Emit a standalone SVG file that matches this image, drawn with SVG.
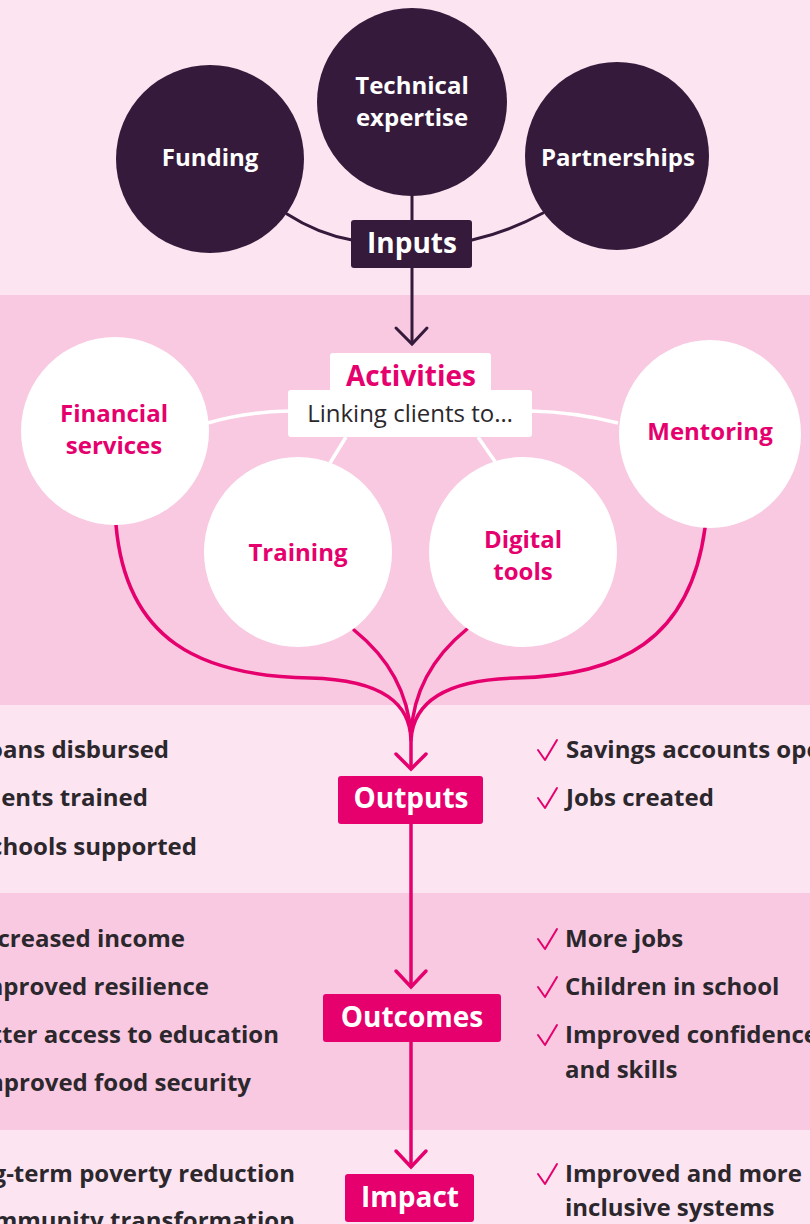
<svg xmlns="http://www.w3.org/2000/svg" width="810" height="1224" viewBox="0 0 810 1224">
<defs>
<style>
.light{fill:#fce4f0}
.dark{fill:#f8c9e1}
.blobD{fill:#351a3b}
.blobW{fill:#ffffff}
.tW{font-family:"Open Sans","Liberation Sans",sans-serif;font-weight:700;fill:#ffffff;text-anchor:middle}
.tP{font-family:"Open Sans","Liberation Sans",sans-serif;font-weight:700;fill:#e5006e;text-anchor:middle}
.body{font-family:"Open Sans","Liberation Sans",sans-serif;font-weight:700;fill:#2b272c;font-size:24px}
.bodyL{text-anchor:end}
.pink{fill:none;stroke:#e5006e;stroke-width:3.5;stroke-linecap:round}
.plum{fill:none;stroke:#351a3b;stroke-width:3;stroke-linecap:round}
.white{fill:none;stroke:#ffffff;stroke-width:3.5}
.chk{fill:none;stroke:#e5006e;stroke-width:2;stroke-linecap:round;stroke-linejoin:round}
</style>
<path id="check" d="M0,0 L7,10 L19,-10"/>
</defs>

<!-- bands -->
<rect class="light" x="0" y="0" width="810" height="295"/>
<rect class="dark" x="0" y="295" width="810" height="410"/>
<rect class="light" x="0" y="705" width="810" height="188"/>
<rect class="dark" x="0" y="893" width="810" height="237"/>
<rect class="light" x="0" y="1130" width="810" height="94"/>

<!-- connectors -->
<g id="connectors">
  <path class="plum" d="M287,214 Q318,234 352,240"/>
  <path class="plum" d="M472,240 Q508,232 543,213"/>
  <path class="plum" d="M412,195 L412,222"/>
  <path class="plum" d="M412,268 L412,343"/>
  <path class="plum" d="M396,328 L412,344 L427,328"/>
  <path class="white" d="M208,423 Q245,412 289,411"/>
  <path class="white" d="M531,411 Q575,412 618,423"/>
  <path class="white" d="M346,437 L330,463"/>
  <path class="white" d="M478,437 L496,463"/>
  <path class="pink" d="M116,525 C126,640 200,676 310,678 C385,680 410,705 411,740 L411,768"/>
  <path class="pink" d="M354,630 C385,655 408,690 411,735"/>
  <path class="pink" d="M467,629 C435,655 413,690 411,735"/>
  <path class="pink" d="M705,528 C690,640 620,676 515,678 C440,680 413,705 411,740"/>
  <path class="pink" d="M396,754 L411,769 L426,754"/>
  <path class="pink" d="M411,824 L411,986"/>
  <path class="pink" d="M396,971 L411,987 L426,971"/>
  <path class="pink" d="M411,1042 L411,1166"/>
  <path class="pink" d="M396,1151 L411,1167 L426,1151"/>
</g>

<!-- Inputs -->
<g id="funding">
  <ellipse class="blobD" cx="210" cy="159" rx="94" ry="94"/>
  <text class="tW" x="210" y="166" font-size="24">Funding</text>
</g>
<g id="technical-expertise">
  <ellipse class="blobD" cx="412" cy="102" rx="95" ry="94"/>
  <text class="tW" x="412" y="94" font-size="24">Technical</text>
  <text class="tW" x="412" y="126" font-size="24">expertise</text>
</g>
<g id="partnerships">
  <ellipse class="blobD" cx="617" cy="156" rx="92" ry="94"/>
  <text class="tW" x="618" y="166" font-size="24">Partnerships</text>
</g>
<g id="inputs">
  <rect class="blobD" x="351" y="220" width="121" height="48" rx="3"/>
  <text class="tW" x="412" y="253" font-size="28">Inputs</text>
</g>

<!-- Activities -->
<g id="activities">
  <rect class="blobW" x="330" y="353" width="161" height="40" rx="3"/>
  <rect class="blobW" x="288" y="390" width="244" height="47" rx="3"/>
  <text class="tP" x="411" y="386" font-size="28">Activities</text>
  <text x="410" y="422" font-family="Open Sans, Liberation Sans, sans-serif" font-size="24" fill="#2b272c" text-anchor="middle">Linking clients to…</text>
</g>
<g id="financial-services">
  <ellipse class="blobW" cx="115" cy="431" rx="94" ry="94"/>
  <text class="tP" x="114" y="422" font-size="24">Financial</text>
  <text class="tP" x="114" y="454" font-size="24">services</text>
</g>
<g id="training">
  <ellipse class="blobW" cx="298" cy="552" rx="94" ry="95"/>
  <text class="tP" x="298" y="561" font-size="24">Training</text>
</g>
<g id="digital-tools">
  <ellipse class="blobW" cx="523" cy="552" rx="94" ry="95"/>
  <text class="tP" x="523" y="548" font-size="24">Digital</text>
  <text class="tP" x="523" y="580" font-size="24">tools</text>
</g>
<g id="mentoring">
  <ellipse class="blobW" cx="710" cy="434" rx="91" ry="94"/>
  <text class="tP" x="710" y="440" font-size="24">Mentoring</text>
</g>

<!-- Outputs -->
<g id="outputs">
  <rect fill="#e5006e" x="338" y="776" width="145" height="48" rx="3"/>
  <text class="tW" x="411" y="808" font-size="28">Outputs</text>
</g>
<g id="outputs-left">
  <text class="body bodyL" x="169" y="758">Loans disbursed</text>
  <text class="body bodyL" x="148" y="806">Clients trained</text>
  <text class="body bodyL" x="197" y="855">Schools supported</text>
</g>
<g id="outputs-right">
  <use href="#check" class="chk" x="538" y="750"/>
  <text class="body" x="566" y="758">Savings accounts opened</text>
  <use href="#check" class="chk" x="538" y="798"/>
  <text class="body" x="566" y="806">Jobs created</text>
</g>

<!-- Outcomes -->
<g id="outcomes">
  <rect fill="#e5006e" x="323" y="994" width="178" height="48" rx="3"/>
  <text class="tW" x="412" y="1027" font-size="28">Outcomes</text>
</g>
<g id="outcomes-left">
  <text class="body bodyL" x="185" y="947">Increased income</text>
  <text class="body bodyL" x="209" y="995">Improved resilience</text>
  <text class="body bodyL" x="279" y="1043">Better access to education</text>
  <text class="body bodyL" x="251" y="1091">Improved food security</text>
</g>
<g id="outcomes-right">
  <use href="#check" class="chk" x="538" y="939"/>
  <text class="body" x="565" y="947">More jobs</text>
  <use href="#check" class="chk" x="538" y="987"/>
  <text class="body" x="565" y="995">Children in school</text>
  <use href="#check" class="chk" x="538" y="1035"/>
  <text class="body" x="565" y="1043">Improved confidence</text>
  <text class="body" x="565" y="1078">and skills</text>
</g>

<!-- Impact -->
<g id="impact">
  <rect fill="#e5006e" x="345" y="1174" width="129" height="48" rx="3"/>
  <text class="tW" x="410" y="1207" font-size="28">Impact</text>
</g>
<g id="impact-left">
  <text class="body bodyL" x="295" y="1182">Long-term poverty reduction</text>
  <text class="body bodyL" x="295" y="1229">Community transformation</text>
</g>
<g id="impact-right">
  <use href="#check" class="chk" x="538" y="1174"/>
  <text class="body" x="565" y="1182">Improved and more</text>
  <text class="body" x="565" y="1216">inclusive systems</text>
</g>
</svg>
